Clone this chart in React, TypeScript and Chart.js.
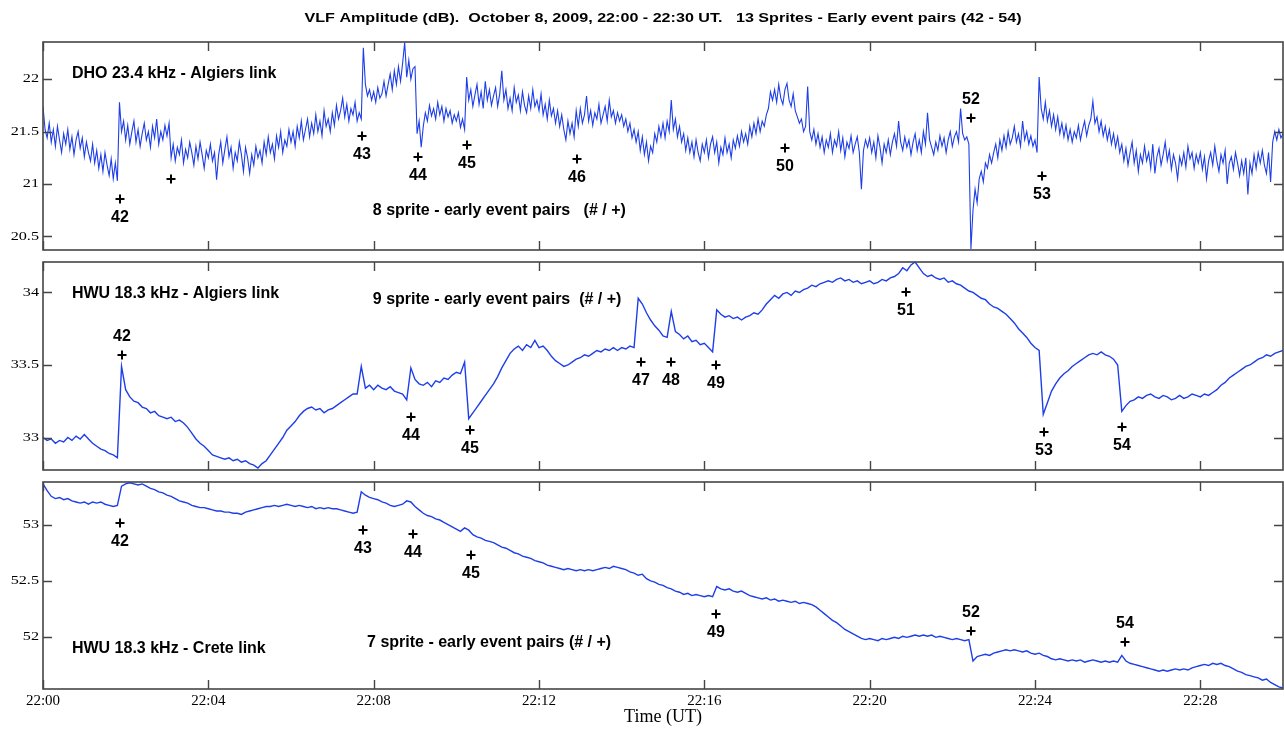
import React, { useEffect, useRef } from "react";
import { Chart, registerables } from "chart.js";

Chart.register(...registerables);

// ---------- data ----------
// sampling interval of each series, in minutes after 22:00 UT
const DHO_STEP_MIN = 0.05;
const HWU_STEP_MIN = 0.1;

const X_TICKS = [0, 4, 8, 12, 16, 20, 24, 28];
const X_TICK_LABELS = ["22:00", "22:04", "22:08", "22:12", "22:16", "22:20", "22:24", "22:28"];

// DHO 23.4 kHz - Algiers link (dB), one row per minute
const DHO_ALGIERS = [
  21.74, 21.52, 21.44, 21.58, 21.4, 21.52, 21.36, 21.55, 21.42, 21.3, 21.48, 21.38, 21.52, 21.33, 21.45, 21.28, 21.42, 21.5, 21.34, 21.44,
  21.26, 21.4, 21.3, 21.22, 21.38, 21.2, 21.32, 21.15, 21.28, 21.12, 21.3, 21.18, 21.08, 21.24, 21.05, 21.2, 21.03, 21.78, 21.5, 21.6,
  21.42, 21.56, 21.38, 21.5, 21.6, 21.4, 21.52, 21.36, 21.48, 21.58, 21.42, 21.5, 21.35, 21.55, 21.44, 21.62, 21.38, 21.5, 21.42, 21.56,
  21.46, 21.58, 21.25, 21.38, 21.22, 21.35, 21.28, 21.42, 21.2, 21.33, 21.25, 21.4, 21.3, 21.18, 21.36, 21.24, 21.4, 21.28, 21.15, 21.32,
  21.25, 21.38, 21.22, 21.3, 21.04, 21.28, 21.4, 21.2, 21.33, 21.45, 21.26, 21.35, 21.15, 21.3, 21.22, 21.4, 21.28, 21.12, 21.35, 21.25,
  21.1, 21.28, 21.18, 21.36, 21.25, 21.32, 21.2, 21.4, 21.28, 21.45, 21.3, 21.38, 21.24, 21.46, 21.35, 21.5, 21.3, 21.42, 21.36, 21.52,
  21.4, 21.5, 21.36, 21.55, 21.44, 21.6, 21.42, 21.52, 21.62, 21.45, 21.58, 21.48, 21.66, 21.5, 21.6, 21.46, 21.7, 21.55, 21.62, 21.5,
  21.68, 21.56, 21.75, 21.62, 21.7, 21.82, 21.64, 21.76, 21.6, 21.72, 21.66, 21.78, 21.6, 21.68, 21.62, 22.3, 21.95, 21.84, 21.9, 21.8,
  21.88, 21.78, 21.92, 21.82, 21.86, 21.98, 21.84, 21.95, 22.05, 21.9, 22.08, 21.95, 22.12, 21.98, 22.15, 22.35, 22.02, 22.18, 22.0, 22.1,
  22.12, 21.48, 21.6, 21.35, 21.55, 21.68, 21.6, 21.75, 21.65, 21.72, 21.62, 21.78, 21.66, 21.74, 21.6, 21.72, 21.64, 21.7, 21.58, 21.66,
  21.6, 21.68, 21.54, 21.62, 21.52, 22.02, 21.8, 21.9, 21.74, 21.85, 21.95, 21.76, 21.88, 21.72, 21.98, 21.8, 21.9, 21.75, 21.84, 21.92,
  21.74, 21.86, 22.08, 21.8, 21.9, 21.72, 21.82, 21.7, 21.92, 21.78, 21.85, 21.7, 21.88, 21.75, 21.68, 21.84, 21.72, 21.9, 21.74, 21.8,
  21.7, 21.86, 21.66, 21.76, 21.62, 21.8, 21.65, 21.72, 21.58, 21.7, 21.55, 21.66, 21.52, 21.42, 21.6, 21.48, 21.58, 21.45, 21.7, 21.55,
  21.72, 21.58, 21.66, 21.84, 21.6, 21.7, 21.56, 21.68, 21.62, 21.76, 21.58, 21.66, 21.74, 21.6, 21.8, 21.64, 21.7, 21.58, 21.68, 21.6,
  21.66, 21.55, 21.62, 21.5, 21.58, 21.44, 21.52, 21.4, 21.5, 21.32, 21.45, 21.28, 21.4, 21.22, 21.36, 21.3, 21.48, 21.4, 21.55, 21.45,
  21.58, 21.44, 21.6, 21.5, 21.8, 21.52, 21.62, 21.45, 21.55, 21.4, 21.48, 21.32, 21.44, 21.3, 21.4, 21.26, 21.42, 21.3, 21.22, 21.38,
  21.3, 21.42, 21.25, 21.38, 21.45, 21.3, 21.4, 21.2, 21.35, 21.28, 21.44, 21.3, 21.38, 21.25, 21.42, 21.34, 21.46, 21.36, 21.5, 21.4,
  21.48, 21.38, 21.55, 21.45, 21.58, 21.48, 21.62, 21.5, 21.6, 21.55, 21.66, 21.72, 21.88, 21.8, 21.9, 21.78, 21.95, 21.82, 21.76, 21.9,
  21.96, 21.8, 21.74, 21.86, 21.7, 21.64, 21.58, 21.62, 21.5, 21.55, 21.93, 21.5, 21.42, 21.52, 21.38, 21.48, 21.35, 21.45, 21.3, 21.42,
  21.35, 21.48, 21.3, 21.42, 21.36, 21.5, 21.32, 21.44, 21.26, 21.4, 21.34, 21.46, 21.3, 21.38, 21.45, 21.3, 20.95, 21.32, 21.42, 21.35,
  21.44, 21.3, 21.4, 21.25, 21.46, 21.35, 21.2, 21.38, 21.3, 21.42, 21.28, 21.4, 21.48, 21.36, 21.6, 21.4, 21.32, 21.45, 21.35, 21.42,
  21.28, 21.4, 21.48, 21.32, 21.42, 21.3, 21.5, 21.38, 21.68, 21.42, 21.35, 21.28, 21.4, 21.32, 21.46, 21.36, 21.44, 21.3, 21.42, 21.5,
  21.36, 21.45, 21.5, 21.4, 21.72, 21.48, 21.42, 21.45, 21.38, 20.38, 20.75, 20.95, 20.82, 21.05, 21.12, 21.02, 21.2, 21.15, 21.28, 21.2,
  21.3, 21.38, 21.25, 21.42, 21.32, 21.46, 21.35, 21.5, 21.38, 21.44, 21.55, 21.4, 21.48, 21.36, 21.6, 21.42, 21.5, 21.38, 21.46, 21.36,
  21.42, 21.3, 22.02, 21.72, 21.62, 21.78, 21.6, 21.7, 21.55, 21.66, 21.52, 21.64, 21.48, 21.58, 21.45, 21.56, 21.42, 21.52, 21.4, 21.5,
  21.44, 21.56, 21.42, 21.52, 21.6, 21.46, 21.56, 21.62, 21.79, 21.58, 21.64, 21.5, 21.6, 21.46, 21.55, 21.42, 21.52, 21.38, 21.48, 21.35,
  21.45, 21.3, 21.38, 21.22, 21.34, 21.18, 21.3, 21.4, 21.2, 21.32, 21.12, 21.28, 21.2, 21.36, 21.22, 21.3, 21.15, 21.38, 21.1, 21.26,
  21.34, 21.18, 21.28, 21.4, 21.22, 21.32, 21.14, 21.28, 21.2, 21.05, 21.26, 21.18, 21.3, 21.16, 21.36, 21.24, 21.3, 21.15, 21.28, 21.2,
  21.3, 21.14, 21.26, 21.05, 21.22, 21.3, 21.18, 21.36, 21.22, 21.12, 21.28, 21.2, 21.32, 21.0, 21.2, 21.26, 21.14, 21.3, 21.2, 21.08,
  21.22, 21.1, 21.25, 20.9, 21.2, 21.1, 21.28, 21.15, 21.3, 21.2, 21.32, 21.18, 21.1, 21.3, 21.02, 21.4, 21.5, 21.42, 21.52, 21.44,
  21.48,
];

// HWU 18.3 kHz - Algiers link (dB)
const HWU_ALGIERS = [
  33.0, 32.98, 32.99, 32.96, 32.98, 32.97, 33.0, 32.98, 33.01, 32.99,
  33.02, 32.99, 32.96, 32.94, 32.92, 32.91, 32.89, 32.88, 32.86, 33.49,
  33.33, 33.28, 33.25, 33.24, 33.21, 33.2, 33.17, 33.18, 33.15, 33.14,
  33.13, 33.14, 33.11, 33.12, 33.1, 33.07, 33.03, 32.99, 32.96, 32.94,
  32.91, 32.88, 32.87, 32.86, 32.85, 32.86, 32.84, 32.85, 32.83, 32.84,
  32.82, 32.81, 32.79, 32.82, 32.84, 32.88, 32.92, 32.96, 33.0, 33.05,
  33.08, 33.11, 33.15, 33.18, 33.2, 33.21, 33.19, 33.2, 33.17, 33.19,
  33.2, 33.22, 33.24, 33.26, 33.28, 33.3, 33.3, 33.49, 33.34, 33.36,
  33.33, 33.36, 33.34, 33.33, 33.35, 33.32, 33.31, 33.3, 33.26, 33.48,
  33.4, 33.37, 33.36, 33.38, 33.35, 33.39, 33.38, 33.41, 33.4, 33.43,
  33.45, 33.44, 33.52, 33.13, 33.17, 33.21, 33.25, 33.29, 33.33, 33.37,
  33.42, 33.48, 33.53, 33.58, 33.61, 33.63, 33.6, 33.64, 33.62, 33.67,
  33.62, 33.63, 33.6, 33.56, 33.53, 33.51, 33.49, 33.5, 33.52, 33.54,
  33.55, 33.57, 33.56, 33.58, 33.6, 33.59, 33.61, 33.6, 33.62, 33.6,
  33.62, 33.61, 33.63, 33.62, 33.96, 33.92, 33.86, 33.81, 33.77, 33.74,
  33.7, 33.69, 33.87, 33.73, 33.71, 33.68, 33.7, 33.66, 33.67, 33.64,
  33.65, 33.62, 33.59, 33.88, 33.85, 33.83, 33.84, 33.82, 33.83, 33.81,
  33.83, 33.84, 33.86, 33.85, 33.88, 33.92, 33.95, 33.98, 33.96, 33.99,
  34.0, 33.98, 34.01, 34.0, 34.02, 34.03, 34.05, 34.04, 34.06, 34.07,
  34.08, 34.07, 34.09, 34.1, 34.08, 34.09, 34.07, 34.08, 34.06, 34.07,
  34.08, 34.06, 34.07, 34.09, 34.08, 34.1, 34.11, 34.13, 34.17, 34.15,
  34.19, 34.21, 34.17, 34.13, 34.11, 34.12, 34.1, 34.09, 34.1, 34.07,
  34.08, 34.06, 34.05, 34.03, 34.01, 34.0, 33.98, 33.96, 33.95, 33.92,
  33.9, 33.89, 33.87, 33.85, 33.82, 33.79, 33.75, 33.72, 33.69, 33.65,
  33.62, 33.6, 33.16, 33.24, 33.32, 33.37, 33.41, 33.44, 33.46, 33.49,
  33.51, 33.53, 33.55, 33.57, 33.58, 33.57, 33.59, 33.57, 33.56, 33.54,
  33.5, 33.18, 33.22, 33.25, 33.26, 33.28, 33.27, 33.29, 33.3, 33.28,
  33.27, 33.29, 33.28, 33.26, 33.27, 33.29, 33.27, 33.28, 33.3, 33.29,
  33.28, 33.3, 33.29, 33.31, 33.33, 33.36, 33.38, 33.41, 33.43, 33.45,
  33.47, 33.49, 33.5, 33.52, 33.54, 33.55, 33.57, 33.56, 33.58, 33.59,
  33.6,
];

// HWU 18.3 kHz - Crete link (dB)
const HWU_CRETE = [
  53.36, 53.3, 53.25, 53.23, 53.24, 53.22, 53.23, 53.21, 53.2, 53.19,
  53.2, 53.18, 53.2, 53.19, 53.2, 53.18, 53.17, 53.16, 53.17, 53.34,
  53.36, 53.37, 53.36, 53.35, 53.36, 53.34, 53.32, 53.31, 53.29, 53.28,
  53.26, 53.25, 53.23, 53.21, 53.2, 53.19, 53.17, 53.16, 53.15, 53.15,
  53.14, 53.13, 53.12, 53.12, 53.11, 53.11, 53.1, 53.1, 53.09, 53.11,
  53.12, 53.13, 53.14, 53.15, 53.16, 53.16, 53.17, 53.16, 53.17, 53.18,
  53.17, 53.16, 53.17, 53.16, 53.15, 53.16, 53.14, 53.15, 53.14, 53.15,
  53.14, 53.14, 53.13, 53.12, 53.11, 53.1, 53.11, 53.29, 53.26, 53.24,
  53.23, 53.22, 53.2, 53.19, 53.17, 53.16, 53.17, 53.18, 53.21, 53.2,
  53.16, 53.13, 53.1, 53.08, 53.07, 53.05, 53.04, 53.02, 53.0, 52.98,
  52.96, 52.94, 52.97, 52.95, 52.91, 52.89, 52.88, 52.86, 52.85, 52.84,
  52.82, 52.8, 52.79, 52.77, 52.75, 52.74, 52.72, 52.71, 52.7, 52.68,
  52.67, 52.66, 52.64, 52.63, 52.62, 52.61, 52.6, 52.61, 52.6, 52.59,
  52.6, 52.59, 52.6, 52.59, 52.6, 52.61, 52.62, 52.61, 52.63, 52.62,
  52.61, 52.6, 52.58, 52.57, 52.55, 52.56, 52.52, 52.5, 52.49, 52.47,
  52.46, 52.44, 52.43, 52.41, 52.4, 52.38, 52.39, 52.37, 52.38, 52.37,
  52.36, 52.37, 52.36, 52.45, 52.43, 52.42, 52.43, 52.41, 52.4, 52.41,
  52.39, 52.37, 52.36, 52.35, 52.34, 52.35, 52.33, 52.34, 52.32, 52.33,
  52.32, 52.31, 52.32, 52.3, 52.31, 52.3, 52.29, 52.27, 52.24, 52.21,
  52.18, 52.15, 52.13, 52.1, 52.07, 52.05, 52.03, 52.01, 51.99, 51.98,
  51.99, 51.98, 51.97, 51.99, 51.98, 51.99, 52.0, 51.99, 52.01, 52.0,
  52.01, 52.02, 52.01, 52.02, 52.01, 52.02, 52.0, 52.01, 52.0, 51.99,
  51.98, 51.99, 51.98, 51.97, 51.98, 51.79, 51.83, 51.84, 51.85, 51.84,
  51.86, 51.87, 51.88, 51.89, 51.88, 51.89, 51.88, 51.87, 51.88, 51.86,
  51.85, 51.86, 51.84, 51.83, 51.81, 51.8, 51.81, 51.8, 51.79, 51.8,
  51.79, 51.8, 51.78, 51.79, 51.8, 51.79, 51.78, 51.79, 51.78, 51.79,
  51.78, 51.84, 51.79, 51.77, 51.76, 51.75, 51.74, 51.73, 51.72, 51.71,
  51.7, 51.71, 51.7, 51.71, 51.72, 51.71, 51.72, 51.71, 51.73, 51.74,
  51.75, 51.76, 51.75, 51.77, 51.76, 51.77, 51.75, 51.74, 51.72, 51.7,
  51.69, 51.67, 51.66, 51.65, 51.64, 51.62, 51.63, 51.6, 51.58, 51.56,
  51.55,
];

// axis ranges and ticks
const Y_RANGE_DHO = [20.37, 22.355];
const Y_TICKS_DHO = [20.5, 21, 21.5, 22];
const Y_TICK_LABELS_DHO = ["20.5", "21", "21.5", "22"];

const Y_RANGE_HWU_ALG = [32.776, 34.21];
const Y_TICKS_HWU_ALG = [33, 33.5, 34];
const Y_TICK_LABELS_HWU_ALG = ["33", "33.5", "34"];

const Y_RANGE_HWU_CRETE = [51.542, 53.377];
const Y_TICKS_HWU_CRETE = [52, 52.5, 53];
const Y_TICK_LABELS_HWU_CRETE = ["52", "52.5", "53"];

// sprite - early event markers (# / +)
const EVENTS_DHO_TIME = [1.86, 3.1, 7.72, 9.07, 10.26, 12.92, 17.95, 22.45, 24.17];
const EVENTS_DHO_VALUE = [20.86, 21.05, 21.46, 21.26, 21.37, 21.24, 21.34, 21.63, 21.08];
const EVENTS_DHO_LABEL = ["42", "", "43", "44", "45", "46", "50", "52", "53"];

const EVENTS_HWU_ALG_TIME = [1.91, 8.9, 10.33, 14.47, 15.19, 16.28, 20.88, 24.22, 26.1];
const EVENTS_HWU_ALG_VALUE = [33.57, 33.14, 33.05, 33.52, 33.52, 33.5, 34.0, 33.04, 33.07];
const EVENTS_HWU_ALG_LABEL = ["42", "44", "45", "47", "48", "49", "51", "53", "54"];

const EVENTS_HWU_CRETE_TIME = [1.86, 7.74, 8.95, 10.35, 16.28, 22.45, 26.18];
const EVENTS_HWU_CRETE_VALUE = [53.01, 52.95, 52.92, 52.73, 52.21, 52.06, 51.96];
const EVENTS_HWU_CRETE_LABEL = ["42", "43", "44", "45", "49", "52", "54"];

const TITLE =
  "VLF Amplitude (dB).  October 8, 2009, 22:00 - 22:30 UT.   13 Sprites - Early event pairs (42 - 54)";

// ---------- styling ----------
const SANS = "'Liberation Sans', Arial, Helvetica, sans-serif";
const SERIF = "'Liberation Serif', 'Times New Roman', Times, serif";
const LINE_BLUE = "rgb(30, 62, 232)";
const FRAME = "#454545";
const TICK_LEN = 9;
const TITLE_WIDTH = 717;
const Y_LABEL_STRETCH = 1.35;

type Note = { t: number; v: number; text: string };
type PanelCfg = {
  values: number[];
  step: number;
  lineWidth: number;
  range: number[];
  yTicks: number[];
  yLabels: string[];
  evT: number[];
  evV: number[];
  evL: string[];
  labelsAbove: string[];
  notes: Note[];
  title?: string;
  showX: boolean;
  padTop: number;
  padBottom: number;
};

function makeDecor(cfg: PanelCfg) {
  return {
    id: "panelDecor",
    afterDraw(chart: any) {
      const { ctx, chartArea: a, scales } = chart;
      const xs = scales.x;
      const ys = scales.y;
      ctx.save();
      // frame
      ctx.strokeStyle = FRAME;
      ctx.lineWidth = 1.6;
      ctx.strokeRect(a.left, a.top, a.right - a.left, a.bottom - a.top);
      // inward ticks
      ctx.lineWidth = 1.4;
      ctx.beginPath();
      X_TICKS.forEach((v) => {
        const px = Math.round(xs.getPixelForValue(v)) + 0.5;
        ctx.moveTo(px, a.top);
        ctx.lineTo(px, a.top + TICK_LEN);
        ctx.moveTo(px, a.bottom);
        ctx.lineTo(px, a.bottom - TICK_LEN);
      });
      cfg.yTicks.forEach((v) => {
        const py = Math.round(ys.getPixelForValue(v)) + 0.5;
        ctx.moveTo(a.left, py);
        ctx.lineTo(a.left + TICK_LEN, py);
        ctx.moveTo(a.right, py);
        ctx.lineTo(a.right - TICK_LEN, py);
      });
      ctx.stroke();
      // y tick labels (wide serif, as in the source figure)
      ctx.fillStyle = "#000";
      ctx.font = `12px ${SERIF}`;
      ctx.textAlign = "right";
      ctx.textBaseline = "middle";
      cfg.yTicks.forEach((v, i) => {
        const py = ys.getPixelForValue(v);
        ctx.save();
        ctx.translate(a.left - 4, py);
        ctx.scale(Y_LABEL_STRETCH, 1);
        ctx.fillText(cfg.yLabels[i], 0, 0);
        ctx.restore();
      });
      // event markers
      ctx.strokeStyle = "#000";
      ctx.lineWidth = 2;
      ctx.font = `bold 16px ${SANS}`;
      ctx.textAlign = "center";
      cfg.evT.forEach((t, i) => {
        const px = Math.round(xs.getPixelForValue(t));
        const py = Math.round(ys.getPixelForValue(cfg.evV[i]));
        ctx.beginPath();
        ctx.moveTo(px - 4.5, py);
        ctx.lineTo(px + 4.5, py);
        ctx.moveTo(px, py - 4.5);
        ctx.lineTo(px, py + 4.5);
        ctx.stroke();
        const lab = cfg.evL[i];
        if (lab) {
          const above = cfg.labelsAbove.indexOf(lab) >= 0;
          ctx.fillText(lab, px, above ? py - 18 : py + 19);
        }
      });
      // panel notes
      ctx.textAlign = "left";
      ctx.font = `bold 16px ${SANS}`;
      cfg.notes.forEach((n) => {
        ctx.fillText(n.text, xs.getPixelForValue(n.t), ys.getPixelForValue(n.v));
      });
      // figure title
      if (cfg.title) {
        ctx.font = `bold 13px ${SANS}`;
        ctx.textAlign = "center";
        const w = ctx.measureText(cfg.title).width;
        ctx.save();
        ctx.translate((a.left + a.right) / 2, 18);
        ctx.scale(TITLE_WIDTH / w, 1);
        ctx.fillText(cfg.title, 0, 0);
        ctx.restore();
      }
      ctx.restore();
    },
  };
}

function buildConfig(cfg: PanelCfg): any {
  const times = cfg.values.map((_, i) => Math.round(i * cfg.step * 100) / 100);
  const xScale: any = cfg.showX
    ? {
        type: "linear",
        min: 0,
        max: 30,
        position: "bottom",
        afterBuildTicks: (s: any) => {
          s.ticks = X_TICKS.map((v) => ({ value: v }));
        },
        afterFit: (s: any) => {
          s.height = 42;
        },
        ticks: {
          callback: (_v: any, i: number) => X_TICK_LABELS[i],
          font: { family: SERIF, size: 15 },
          color: "#000",
          padding: 3,
          maxRotation: 0,
          autoSkip: false,
        },
        grid: { display: false, drawTicks: false },
        border: { display: false },
        title: {
          display: true,
          text: "Time (UT)",
          font: { family: SERIF, size: 18 },
          color: "#000",
          padding: { top: 0, bottom: 3 },
        },
      }
    : { type: "linear", min: 0, max: 30, display: false };

  return {
    type: "line",
    data: {
      datasets: [
        {
          data: times.map((t, i) => ({ x: t, y: cfg.values[i] })),
          borderColor: LINE_BLUE,
          borderWidth: cfg.lineWidth,
          pointRadius: 0,
          tension: 0,
          fill: false,
        },
      ],
    },
    options: {
      responsive: false,
      animation: false,
      events: [],
      layout: { padding: { top: cfg.padTop, bottom: cfg.padBottom, left: 0, right: 1 } },
      plugins: { legend: { display: false }, tooltip: { enabled: false }, title: { display: false } },
      scales: {
        x: xScale,
        y: {
          type: "linear",
          min: cfg.range[0],
          max: cfg.range[1],
          afterBuildTicks: (s: any) => {
            s.ticks = cfg.yTicks.map((v) => ({ value: v }));
          },
          afterFit: (s: any) => {
            s.width = 43;
          },
          ticks: { display: false },
          grid: { display: false, drawTicks: false },
          border: { display: false },
        },
      },
    },
    plugins: [makeDecor(cfg)],
  };
}

const PANELS: PanelCfg[] = [
  {
    values: DHO_ALGIERS,
    step: DHO_STEP_MIN,
    lineWidth: 1.1,
    range: Y_RANGE_DHO,
    yTicks: Y_TICKS_DHO,
    yLabels: Y_TICK_LABELS_DHO,
    evT: EVENTS_DHO_TIME,
    evV: EVENTS_DHO_VALUE,
    evL: EVENTS_DHO_LABEL,
    labelsAbove: ["52"],
    notes: [
      { t: 0.7, v: 22.057, text: "DHO 23.4 kHz - Algiers link" },
      { t: 7.98, v: 20.748, text: "8 sprite - early event pairs   (# / +)" },
    ],
    title: TITLE,
    showX: false,
    padTop: 42,
    padBottom: 14,
  },
  {
    values: HWU_ALGIERS,
    step: HWU_STEP_MIN,
    lineWidth: 1.4,
    range: Y_RANGE_HWU_ALG,
    yTicks: Y_TICKS_HWU_ALG,
    yLabels: Y_TICK_LABELS_HWU_ALG,
    evT: EVENTS_HWU_ALG_TIME,
    evV: EVENTS_HWU_ALG_VALUE,
    evL: EVENTS_HWU_ALG_LABEL,
    labelsAbove: ["42"],
    notes: [
      { t: 0.7, v: 33.995, text: "HWU 18.3 kHz - Algiers link" },
      { t: 7.98, v: 33.954, text: "9 sprite - early event pairs  (# / +)" },
    ],
    showX: false,
    padTop: 14,
    padBottom: 14,
  },
  {
    values: HWU_CRETE,
    step: HWU_STEP_MIN,
    lineWidth: 1.4,
    range: Y_RANGE_HWU_CRETE,
    yTicks: Y_TICKS_HWU_CRETE,
    yLabels: Y_TICK_LABELS_HWU_CRETE,
    evT: EVENTS_HWU_CRETE_TIME,
    evV: EVENTS_HWU_CRETE_VALUE,
    evL: EVENTS_HWU_CRETE_LABEL,
    labelsAbove: ["52", "54"],
    notes: [
      { t: 0.7, v: 51.896, text: "HWU 18.3 kHz - Crete link" },
      { t: 7.84, v: 51.95, text: "7 sprite - early event pairs (# / +)" },
    ],
    showX: true,
    padTop: 14,
    padBottom: 0,
  },
];

const CANVAS_BOXES = [
  { top: 0, height: 264 },
  { top: 248, height: 236 },
  { top: 468, height: 263 },
];

export default function App() {
  const r0 = useRef<HTMLCanvasElement>(null);
  const r1 = useRef<HTMLCanvasElement>(null);
  const r2 = useRef<HTMLCanvasElement>(null);
  const refs = [r0, r1, r2];

  useEffect(() => {
    const charts = PANELS.map((p, i) => new Chart(refs[i].current as HTMLCanvasElement, buildConfig(p)));
    return () => charts.forEach((c) => c.destroy());
  }, []);

  return (
    <div
      style={{
        position: "absolute",
        left: 0,
        top: 0,
        width: 1284,
        height: 731,
        background: "#fff",
        overflow: "hidden",
      }}
    >
      {CANVAS_BOXES.map((b, i) => (
        <canvas
          key={i}
          ref={refs[i]}
          width={1284}
          height={b.height}
          style={{ position: "absolute", left: 0, top: b.top, width: 1284, height: b.height }}
        />
      ))}
    </div>
  );
}
